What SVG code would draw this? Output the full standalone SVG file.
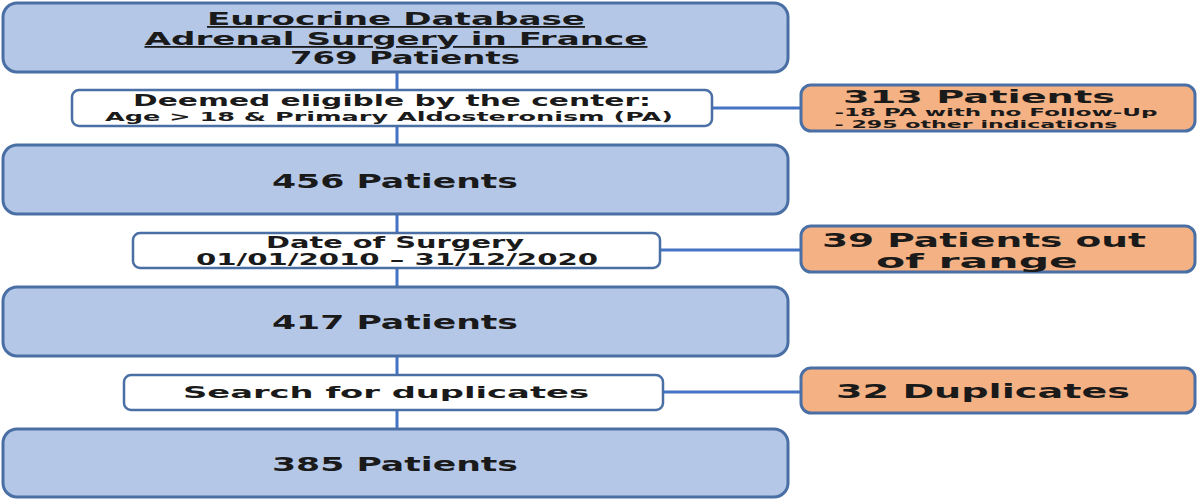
<svg xmlns="http://www.w3.org/2000/svg" width="1200" height="500" viewBox="0 0 1200 500">
<style>
.main{fill:#b4c7e7;stroke:#4a6fa5;stroke-width:3}
.white{fill:#fff;stroke:#4a6fa5;stroke-width:2.5}
.orange{fill:#f4b183;stroke:#4a6fa5;stroke-width:3}
.line{stroke:#4472c4;stroke-width:3;fill:none}
text{font-family:"DejaVu Sans",sans-serif;font-weight:bold;fill:#1a1a1a;text-anchor:middle}
.big{font-size:20px}
.top{font-size:18px}
.mid{font-size:16px}
.sm{font-size:12px}
.xs{font-size:11px}
</style>
<g id="connectors">
<line class="line" x1="397" y1="72" x2="397" y2="428"/>
<line class="line" x1="712" y1="108" x2="801" y2="108"/>
<line class="line" x1="660" y1="250" x2="801" y2="250"/>
<line class="line" x1="663" y1="392" x2="801" y2="392"/>
</g>
<g id="n1"><rect class="main" x="3" y="3" width="785" height="69" rx="14"/>
<text class="top" x="396" y="25" textLength="378" lengthAdjust="spacingAndGlyphs" text-decoration="underline">Eurocrine Database</text>
<text class="top" x="396" y="45" textLength="503" lengthAdjust="spacingAndGlyphs" text-decoration="underline">Adrenal Surgery in France</text>
<text class="top" x="405" y="64" textLength="230" lengthAdjust="spacingAndGlyphs">769 Patients</text></g>
<g id="n2"><rect class="white" x="72" y="90" width="640" height="36" rx="7"/>
<text class="mid" x="392" y="106" textLength="518" lengthAdjust="spacingAndGlyphs">Deemed eligible by the center:</text>
<text class="sm" x="389" y="121" textLength="568" lengthAdjust="spacingAndGlyphs">Age &gt; 18 &amp; Primary Aldosteronism (PA)</text></g>
<g id="n3"><rect class="orange" x="801" y="85" width="394" height="46" rx="10"/>
<text class="top" x="979" y="103" textLength="272" lengthAdjust="spacingAndGlyphs">313 Patients</text>
<text class="xs" x="996" y="116" textLength="323" lengthAdjust="spacingAndGlyphs">-18 PA with no Follow-Up</text>
<text class="xs" x="976" y="128" textLength="283" lengthAdjust="spacingAndGlyphs">- 295 other indications</text></g>
<g id="n4"><rect class="main" x="3" y="145" width="785" height="69" rx="14"/>
<text class="big" x="395" y="188" textLength="246" lengthAdjust="spacingAndGlyphs">456 Patients</text></g>
<g id="n5"><rect class="white" x="133" y="233" width="527" height="35" rx="7"/>
<text class="mid" x="395" y="248" textLength="258" lengthAdjust="spacingAndGlyphs">Date of Surgery</text>
<text class="mid" x="397" y="265" textLength="402" lengthAdjust="spacingAndGlyphs">01/01/2010 – 31/12/2020</text></g>
<g id="n6"><rect class="orange" x="801" y="226" width="394" height="46" rx="10"/>
<text class="big" x="984" y="247" textLength="324" lengthAdjust="spacingAndGlyphs">39 Patients out</text>
<text class="big" x="977" y="268" textLength="202" lengthAdjust="spacingAndGlyphs">of range</text></g>
<g id="n7"><rect class="main" x="3" y="287" width="785" height="69" rx="14"/>
<text class="big" x="395" y="329" textLength="246" lengthAdjust="spacingAndGlyphs">417 Patients</text></g>
<g id="n8"><rect class="white" x="124" y="375" width="539" height="35" rx="7"/>
<text class="mid" x="386" y="398" textLength="406" lengthAdjust="spacingAndGlyphs">Search for duplicates</text></g>
<g id="n9"><rect class="orange" x="801" y="368" width="394" height="45" rx="10"/>
<text class="big" x="983" y="398" textLength="294" lengthAdjust="spacingAndGlyphs">32 Duplicates</text></g>
<g id="n10"><rect class="main" x="3" y="429" width="785" height="68" rx="14"/>
<text class="big" x="395" y="471" textLength="246" lengthAdjust="spacingAndGlyphs">385 Patients</text></g>
</svg>
